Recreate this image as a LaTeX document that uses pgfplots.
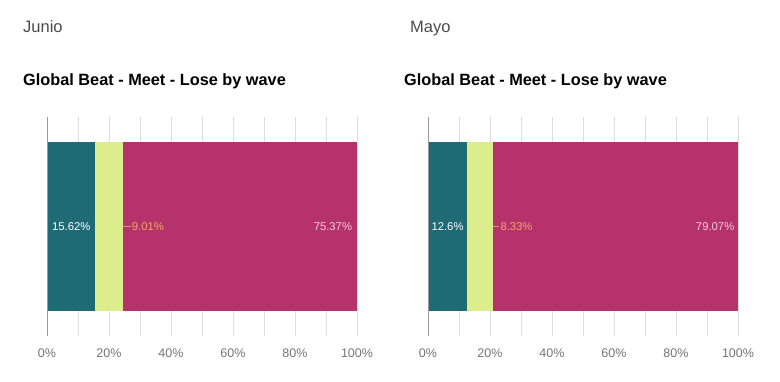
\documentclass[border=0pt]{standalone}
\usepackage{fontspec}
\setmainfont{Liberation Sans}
\usepackage{pgfplots}
\pgfplotsset{compat=1.18}
\definecolor{cteal}{HTML}{1F6B75}
\definecolor{cyel}{HTML}{DBEE8B}
\definecolor{cmag}{HTML}{B5336A}
\definecolor{corange}{HTML}{F2A46E}
\definecolor{cpink}{HTML}{F7C9DA}
\definecolor{cgrid}{HTML}{DDDDDD}
\definecolor{ctick}{HTML}{757575}
\definecolor{chead}{HTML}{4A4A4A}
\pgfplotsset{
  beatstyle/.style={
    scale only axis, width=310pt, height=219pt, anchor=south west,
    xbar stacked, bar width=169pt,
    xmin=0, xmax=100, ymin=-1, ymax=1,
    ytick=\empty,
    xtick={0,20,40,60,80,100},
    xticklabels={0\%,20\%,40\%,60\%,80\%,100\%},
    minor xtick={10,30,50,70,90},
    xmajorgrids, xminorgrids,
    major grid style={cgrid, line width=0.8pt},
    minor grid style={cgrid, line width=0.8pt},
    major tick length=0pt, minor tick length=0pt,
    axis line style={draw=none},
    ticklabel style={font=\fontsize{12.5}{14}\selectfont, text=ctick},
    xticklabel style={yshift=-9pt},
    clip=false,
  },
}
\tikzset{lab/.style={font=\fontsize{11.3}{13}\selectfont, inner sep=1pt}}
\begin{document}
\begin{tikzpicture}[x=1pt,y=1pt]
\path[use as bounding box] (0,0) rectangle (780,382);
\node[anchor=base west, inner sep=0pt, text=chead, font=\fontsize{16.5}{18}\selectfont] at (23,349) {Junio};
\node[anchor=base west, inner sep=0pt, text=chead, font=\fontsize{16.5}{18}\selectfont] at (410,349) {Mayo};
\node[anchor=base west, inner sep=0pt, font=\bfseries\fontsize{16.3}{18}\selectfont] at (23,296) {Global Beat - Meet - Lose by wave};
\node[anchor=base west, inner sep=0pt, font=\bfseries\fontsize{16.3}{18}\selectfont] at (404,296) {Global Beat - Meet - Lose by wave};

\begin{axis}[beatstyle, at={(47pt,46pt)}]
\addplot[fill=cteal, draw=none] coordinates {(15.62,0)};
\addplot[fill=cyel, draw=none] coordinates {(9.01,0)};
\addplot[fill=cmag, draw=none] coordinates {(75.37,0)};
\coordinate (La) at (axis cs:0,-1);
\coordinate (Lb) at (axis cs:0,1);
\coordinate (L1) at (axis cs:7.81,0);
\coordinate (L2a) at (axis cs:24.63,0);
\coordinate (L2b) at (axis cs:27,0);
\coordinate (L3) at (axis cs:98.8,0);
\end{axis}
\draw[gray!80, line width=1pt] (La) -- (Lb);
\node[lab, text=white] at (L1) {15.62\%};
\draw[corange!70!gray, line width=0.6pt] (L2a) -- (L2b);
\node[lab, anchor=west, text=corange] at (L2b) {9.01\%};
\node[lab, anchor=east, text=cpink] at (L3) {75.37\%};

\begin{axis}[beatstyle, at={(428pt,46pt)}]
\addplot[fill=cteal, draw=none] coordinates {(12.6,0)};
\addplot[fill=cyel, draw=none] coordinates {(8.33,0)};
\addplot[fill=cmag, draw=none] coordinates {(79.07,0)};
\coordinate (Ra) at (axis cs:0,-1);
\coordinate (Rb) at (axis cs:0,1);
\coordinate (R1) at (axis cs:6.3,0);
\coordinate (R2a) at (axis cs:20.93,0);
\coordinate (R2b) at (axis cs:23,0);
\coordinate (R3) at (axis cs:99.2,0);
\end{axis}
\draw[gray!80, line width=1pt] (Ra) -- (Rb);
\node[lab, text=white] at (R1) {12.6\%};
\draw[corange!70!gray, line width=0.6pt] (R2a) -- (R2b);
\node[lab, anchor=west, text=corange] at (R2b) {8.33\%};
\node[lab, anchor=east, text=cpink] at (R3) {79.07\%};
\end{tikzpicture}
\end{document}
